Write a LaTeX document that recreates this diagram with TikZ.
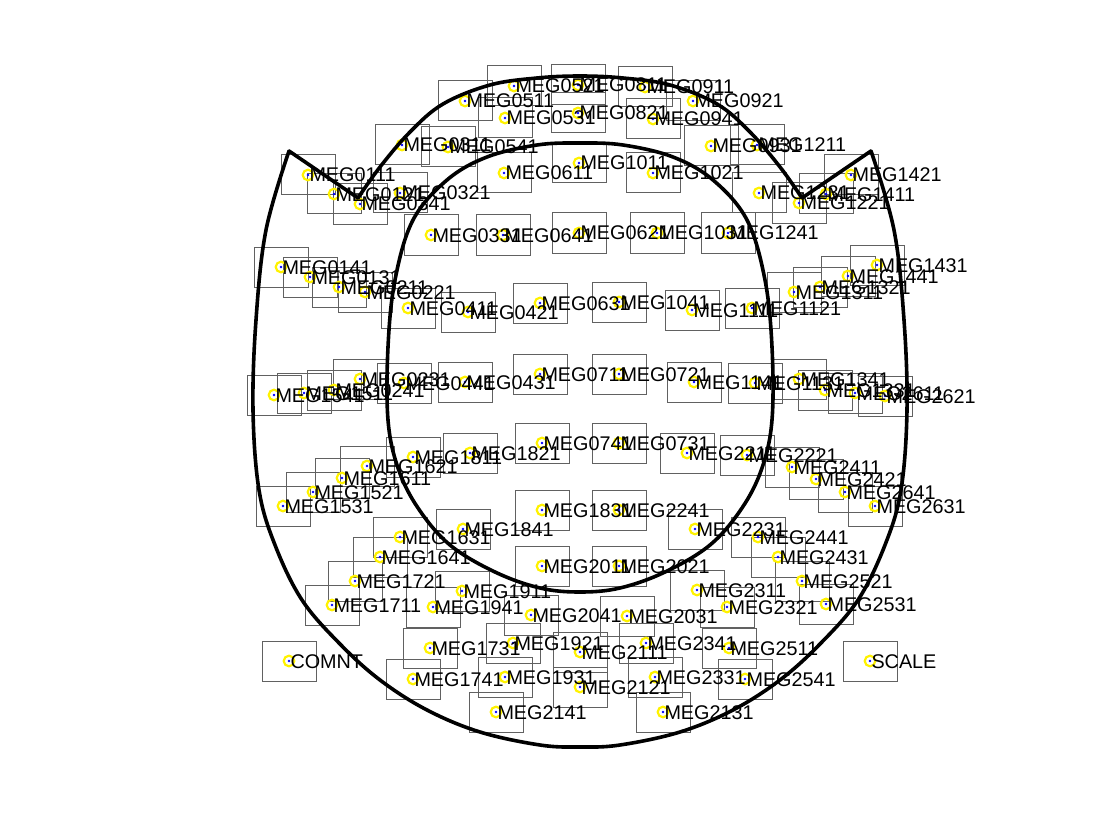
\documentclass[tikz,border=0pt]{standalone}
\usepackage{fontspec}
\setmainfont{Liberation Sans}
\begin{document}
\begin{tikzpicture}[x=1pt,y=-1pt,
  sbox/.style={draw=black!62,line width=1pt},
  ring/.style={draw=yellow,line width=2.2pt},
  bdot/.style={fill=blue},
  lbl/.style={anchor=base west,inner sep=0pt,font=\fontsize{19.8}{20}\selectfont},
  outl/.style={line width=3.6pt,line join=round,line cap=round}]
\useasboundingbox (0,0) rectangle (1120,840);
\def\sensors{MEG0111/308/175, MEG0121/334/194, MEG0131/310/277, MEG0141/281/267,
MEG0211/339/287, MEG0221/365/292, MEG0231/360/379, MEG0241/334/390,
MEG0311/402/145, MEG0321/400/193, MEG0331/431/235, MEG0341/360/204,
MEG0411/408/308, MEG0421/468/312, MEG0431/465/382, MEG0441/404/383,
MEG0511/465/101, MEG0521/514/86, MEG0531/505/118, MEG0541/448/147,
MEG0611/504/173, MEG0621/579/233, MEG0631/540/303, MEG0641/503/235,
MEG0711/540/374, MEG0721/619/374, MEG0731/619/443, MEG0741/542/443,
MEG0811/578/85, MEG0821/578/113,
MEG0911/645/87, MEG0921/693/101, MEG0931/711/146, MEG0941/653/119,
MEG1011/579/163, MEG1021/653/173, MEG1031/657/233, MEG1041/619/302,
MEG1111/692/310, MEG1121/752/308, MEG1131/755/383, MEG1141/694/382,
MEG1211/757/145, MEG1221/799/203, MEG1231/759/193, MEG1241/728/233,
MEG1311/794/292, MEG1321/820/287, MEG1331/825/390, MEG1341/799/379,
MEG1411/826/194, MEG1421/851/175, MEG1431/877/265, MEG1441/848/276,
MEG1511/304/393, MEG1521/313/492, MEG1531/283/506, MEG1541/274/395,
MEG1611/342/478, MEG1621/367/466, MEG1631/400/537, MEG1641/380/557,
MEG1711/332/605, MEG1721/355/581, MEG1731/430/648, MEG1741/413/679,
MEG1811/413/457, MEG1821/470/453, MEG1831/542/510, MEG1841/463/529,
MEG1911/462/591, MEG1921/513/643, MEG1931/505/677, MEG1941/433/607,
MEG2011/542/566, MEG2021/619/566, MEG2031/627/616, MEG2041/531/615,
MEG2111/580/652, MEG2121/580/687, MEG2131/663/712, MEG2141/496/712,
MEG2211/687/453, MEG2221/747/455, MEG2231/695/529, MEG2241/619/510,
MEG2311/697/590, MEG2321/727/607, MEG2331/655/677, MEG2341/646/643,
MEG2411/792/467, MEG2421/816/479, MEG2431/778/557, MEG2441/758/537,
MEG2511/729/648, MEG2521/802/581, MEG2531/826/604, MEG2541/745/679,
MEG2611/855/393, MEG2621/885/396, MEG2631/875/506, MEG2641/845/492,
COMNT/289/661, SCALE/870/661}
% boxes
\foreach \n/\x/\y in \sensors {
  \draw[sbox] (\x-27,\y-20) rectangle (\x+27,\y+20);
}
% markers
\foreach \n/\x/\y in \sensors {
  \draw[ring] (\x,\y) circle[radius=5.3];
  \fill[bdot] (\x,\y) circle[radius=1.3];
}
% labels
\foreach \n/\x/\y in \sensors {
  \node[lbl] (\n) at (\x+1.3,\y+7) {\n};
}
% outline: outer U
\draw[outl] plot[smooth,tension=0.6] coordinates {
 (289,151) (266,230) (256,320) (253,410) (259,490) (275,545) (302,600)
 (340,644) (380,680) (427,710) (480,732) (540,745) (580,747) (620,745)
 (680,732) (733,710) (780,680) (820,644) (858,600) (885,545) (901,490)
 (907,410) (904,320) (894,230) (871,151)};
% spikes and top arc
\draw[outl] (289,151) -- (358,198);
\draw[outl] (871,151) -- (802,198);
\draw[outl] plot[smooth,tension=0.6] coordinates {
 (358,198) (380,167) (410,132) (443,104) (490,85) (537,78) (580,76)
 (623,78) (670,85) (717,104) (750,132) (780,167) (802,198)};
% inner shape
\draw[outl] plot[smooth cycle,tension=0.6] coordinates {
 (580,143) (623,145) (673,157) (713,180) (747,220) (765,280) (772,347)
 (772,420) (762,468) (742,508) (710,545) (665,572) (620,588) (580,592)
 (540,588) (495,572) (450,545) (418,508) (398,468) (388,420) (388,347) (395,280)
 (413,220) (447,180) (487,157) (537,145)};
\end{tikzpicture}
\end{document}
